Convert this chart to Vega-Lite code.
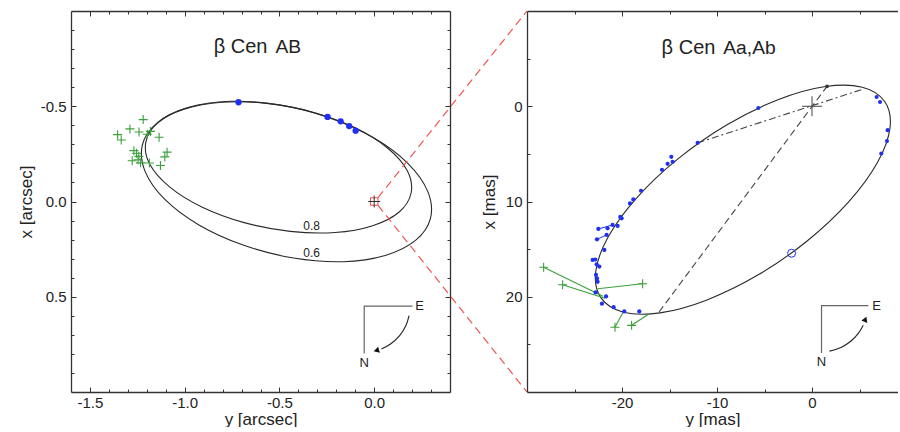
{
  "$schema": "https://vega.github.io/schema/vega-lite/v6.json",
  "padding": {"left": 17, "top": 8, "right": 0, "bottom": 0},
  "background": "white",
  "bounds": "flush",
  "spacing": 77,
  "config": {
    "view": {"stroke": null},
    "font": "Liberation Sans",
    "text": {"font": "Liberation Sans", "color": "#222"},
    "axis": {
      "labelFont": "Liberation Sans", "labelFontSize": 15, "labelColor": "#222",
      "titleFont": "Liberation Sans", "titleFontSize": 17, "titleFontWeight": "normal", "titleColor": "#222",
      "domainColor": "#333", "domainWidth": 1.3, "tickColor": "#333", "tickWidth": 1,
      "grid": false, "labelFlush": false, "labelOverlap": false
    }
  },
  "datasets": {
    "orbL": [
      {"orbit": "0.8", "t": 0, "y": 0.195, "x": -0.046},
      {"orbit": "0.8", "t": 20, "y": 0.132, "x": 0.055},
      {"orbit": "0.8", "t": 40, "y": -0.008, "x": 0.127},
      {"orbit": "0.8", "t": 60, "y": -0.207, "x": 0.163},
      {"orbit": "0.8", "t": 80, "y": -0.443, "x": 0.157},
      {"orbit": "0.8", "t": 100, "y": -0.686, "x": 0.111},
      {"orbit": "0.8", "t": 120, "y": -0.907, "x": 0.030},
      {"orbit": "0.8", "t": 140, "y": -1.080, "x": -0.077},
      {"orbit": "0.8", "t": 160, "y": -1.184, "x": -0.195},
      {"orbit": "0.8", "t": 180, "y": -1.205, "x": -0.312},
      {"orbit": "0.8", "t": 200, "y": -1.142, "x": -0.413},
      {"orbit": "0.8", "t": 220, "y": -1.003, "x": -0.485},
      {"orbit": "0.8", "t": 240, "y": -0.803, "x": -0.521},
      {"orbit": "0.8", "t": 260, "y": -0.567, "x": -0.515},
      {"orbit": "0.8", "t": 280, "y": -0.324, "x": -0.469},
      {"orbit": "0.8", "t": 300, "y": -0.103, "x": -0.388},
      {"orbit": "0.8", "t": 320, "y": 0.070, "x": -0.281},
      {"orbit": "0.8", "t": 340, "y": 0.174, "x": -0.163},
      {"orbit": "0.6", "t": 0, "y": 0.297, "x": 0.088},
      {"orbit": "0.6", "t": 20, "y": 0.218, "x": 0.204},
      {"orbit": "0.6", "t": 40, "y": 0.058, "x": 0.283},
      {"orbit": "0.6", "t": 60, "y": -0.165, "x": 0.316},
      {"orbit": "0.6", "t": 80, "y": -0.425, "x": 0.297},
      {"orbit": "0.6", "t": 100, "y": -0.688, "x": 0.230},
      {"orbit": "0.6", "t": 120, "y": -0.925, "x": 0.123},
      {"orbit": "0.6", "t": 140, "y": -1.106, "x": -0.012},
      {"orbit": "0.6", "t": 160, "y": -1.209, "x": -0.158},
      {"orbit": "0.6", "t": 180, "y": -1.223, "x": -0.298},
      {"orbit": "0.6", "t": 200, "y": -1.144, "x": -0.414},
      {"orbit": "0.6", "t": 220, "y": -0.984, "x": -0.493},
      {"orbit": "0.6", "t": 240, "y": -0.761, "x": -0.526},
      {"orbit": "0.6", "t": 260, "y": -0.501, "x": -0.507},
      {"orbit": "0.6", "t": 280, "y": -0.238, "x": -0.440},
      {"orbit": "0.6", "t": 300, "y": -0.001, "x": -0.333},
      {"orbit": "0.6", "t": 320, "y": 0.180, "x": -0.198},
      {"orbit": "0.6", "t": 340, "y": 0.283, "x": -0.052}
    ],
    "crossL": [
      {"y": -1.219, "x": -0.430}, {"y": -1.289, "x": -0.381}, {"y": -1.241, "x": -0.365},
      {"y": -1.181, "x": -0.368}, {"y": -1.197, "x": -0.353}, {"y": -1.354, "x": -0.351},
      {"y": -1.335, "x": -0.323}, {"y": -1.135, "x": -0.337}, {"y": -1.268, "x": -0.267},
      {"y": -1.254, "x": -0.253}, {"y": -1.093, "x": -0.259}, {"y": -1.105, "x": -0.234},
      {"y": -1.277, "x": -0.214}, {"y": -1.246, "x": -0.219}, {"y": -1.233, "x": -0.203},
      {"y": -1.186, "x": -0.202}, {"y": -1.128, "x": -0.189}, {"y": -1.242, "x": -0.237}
    ],
    "blueL": [
      {"y": -0.716, "x": -0.521}, {"y": -0.246, "x": -0.444}, {"y": -0.177, "x": -0.421},
      {"y": -0.132, "x": -0.396}, {"y": -0.098, "x": -0.372}
    ],
    "originL": [{"y": 0, "x": 0}],
    "redL": [
      {"seg": "upper", "y": 0.02, "x": -0.02}, {"seg": "upper", "y": 0.806, "x": -1.0},
      {"seg": "lower", "y": 0.02, "x": 0.02}, {"seg": "lower", "y": 0.806, "x": 1.0}
    ],
    "labL": [
      {"label": "0.8", "y": -0.33, "x": 0.126},
      {"label": "0.6", "y": -0.33, "x": 0.268}
    ],
    "titleL": [
      {"part": "main", "label": "β Cen", "y": -0.847, "x": -0.779},
      {"part": "sub", "label": "AB", "y": -0.521, "x": -0.779}
    ],
    "compL": [
      {"ord": 1, "y": 0.2016, "x": 0.549}, {"ord": 2, "y": -0.0528, "x": 0.549}, {"ord": 3, "y": -0.0528, "x": 0.798}
    ],
    "arcL": [
      {"ord": 1, "y": 0.184, "x": 0.599}, {"ord": 2, "y": 0.167, "x": 0.652}, {"ord": 3, "y": 0.133, "x": 0.705},
      {"ord": 4, "y": 0.086, "x": 0.748}, {"ord": 5, "y": 0.038, "x": 0.774}
    ],
    "arrowL": [{"y": 0.016, "x": 0.781}],
    "compLabL": [
      {"label": "E", "y": 0.24, "x": 0.549}, {"label": "N", "y": -0.0528, "x": 0.847}
    ],
    "orbR": [
      {"t": 0, "y": 7.65, "x": -0.50}, {"t": 20, "y": 8.21, "x": 2.24}, {"t": 40, "y": 6.90, "x": 5.89},
      {"t": 60, "y": 3.88, "x": 10.02}, {"t": 80, "y": -0.48, "x": 14.12}, {"t": 100, "y": -5.66, "x": 17.70},
      {"t": 120, "y": -11.05, "x": 20.33}, {"t": 140, "y": -15.98, "x": 21.69}, {"t": 160, "y": -19.85, "x": 21.62},
      {"t": 180, "y": -22.21, "x": 20.12}, {"t": 200, "y": -22.77, "x": 17.38}, {"t": 220, "y": -21.46, "x": 13.73},
      {"t": 240, "y": -18.45, "x": 9.61}, {"t": 260, "y": -14.08, "x": 5.50}, {"t": 280, "y": -8.90, "x": 1.92},
      {"t": 300, "y": -3.52, "x": -0.71}, {"t": 320, "y": 1.42, "x": -2.07}, {"t": 340, "y": 5.29, "x": -2.00}
    ],
    "dashR": [{"y": 1.58, "x": -2.09}, {"y": -16.1, "x": 21.6}],
    "dashDotR": [{"y": -12.04, "x": 3.84}, {"y": 5.5, "x": -1.84}],
    "greenLineR": [
      {"id": 1, "ord": 1, "y": -28.25, "x": 16.90}, {"id": 1, "ord": 2, "y": -22.0, "x": 19.95},
      {"id": 2, "ord": 1, "y": -26.25, "x": 18.74}, {"id": 2, "ord": 2, "y": -21.8, "x": 20.15},
      {"id": 3, "ord": 1, "y": -17.83, "x": 18.64}, {"id": 3, "ord": 2, "y": -22.57, "x": 19.16},
      {"id": 4, "ord": 1, "y": -20.74, "x": 23.2}, {"id": 4, "ord": 2, "y": -19.76, "x": 21.4},
      {"id": 5, "ord": 1, "y": -18.99, "x": 23.0}, {"id": 5, "ord": 2, "y": -17.13, "x": 21.78}
    ],
    "greenCrossR": [
      {"y": -28.25, "x": 16.90}, {"y": -26.25, "x": 18.74}, {"y": -17.83, "x": 18.64},
      {"y": -20.74, "x": 23.2}, {"y": -18.99, "x": 23.0}
    ],
    "blueLineR": [
      {"id": 1, "ord": 1, "y": -22.49, "x": 12.88}, {"id": 1, "ord": 2, "y": -20.99, "x": 12.46},
      {"id": 2, "ord": 1, "y": -22.63, "x": 13.97}, {"id": 2, "ord": 2, "y": -21.6, "x": 13.5}
    ],
    "blueR": [
      {"kind": "large", "y": -5.65, "x": 0.18}, {"kind": "large", "y": 6.80, "x": -0.97},
      {"kind": "large", "y": 7.16, "x": -0.45}, {"kind": "large", "y": 7.96, "x": 2.51},
      {"kind": "large", "y": 7.89, "x": 3.66}, {"kind": "large", "y": 7.29, "x": 4.96},
      {"kind": "medium", "y": -12.04, "x": 3.84}, {"kind": "medium", "y": -14.81, "x": 5.31},
      {"kind": "medium", "y": -14.67, "x": 5.83}, {"kind": "medium", "y": -15.20, "x": 6.04},
      {"kind": "medium", "y": -15.79, "x": 6.67}, {"kind": "medium", "y": -18.00, "x": 8.87},
      {"kind": "medium", "y": -18.81, "x": 9.78}, {"kind": "medium", "y": -19.16, "x": 10.20},
      {"kind": "medium", "y": -20.18, "x": 11.62}, {"kind": "medium", "y": -20.04, "x": 11.77},
      {"kind": "medium", "y": -20.46, "x": 12.57}, {"kind": "medium", "y": -20.99, "x": 12.46},
      {"kind": "medium", "y": -21.52, "x": 12.82}, {"kind": "medium", "y": -21.62, "x": 13.51},
      {"kind": "medium", "y": -21.86, "x": 15.08}, {"kind": "medium", "y": -22.81, "x": 16.09},
      {"kind": "medium", "y": -23.09, "x": 16.13}, {"kind": "medium", "y": -22.67, "x": 16.59},
      {"kind": "medium", "y": -22.39, "x": 16.83}, {"kind": "medium", "y": -22.74, "x": 17.70},
      {"kind": "medium", "y": -22.63, "x": 18.08}, {"kind": "medium", "y": -22.57, "x": 18.43},
      {"kind": "medium", "y": -22.78, "x": 19.55}, {"kind": "medium", "y": -21.68, "x": 19.97},
      {"kind": "medium", "y": -22.11, "x": 20.73}, {"kind": "medium", "y": -20.88, "x": 21.09},
      {"kind": "medium", "y": -19.76, "x": 21.54}, {"kind": "medium", "y": -18.18, "x": 21.54},
      {"kind": "small", "y": -22.49, "x": 12.88}, {"kind": "small", "y": -22.63, "x": 13.97}
    ],
    "openR": [{"y": -2.15, "x": 15.43}],
    "periR": [{"y": 1.58, "x": -2.09}],
    "originR": [{"y": 0, "x": 0}],
    "titleR": [
      {"part": "main", "label": "β Cen", "y": -15.83, "x": -5.48},
      {"part": "sub", "label": "Aa,Ab", "y": -9.34, "x": -5.48}
    ],
    "compR": [
      {"ord": 1, "y": 5.93, "x": 20.94}, {"ord": 2, "y": 1.0, "x": 20.94}, {"ord": 3, "y": 1.0, "x": 25.9}
    ],
    "arcR": [
      {"ord": 1, "y": 1.84, "x": 25.71}, {"ord": 2, "y": 3.05, "x": 25.33}, {"ord": 3, "y": 4.11, "x": 24.65},
      {"ord": 4, "y": 4.87, "x": 23.85}, {"ord": 5, "y": 5.39, "x": 22.99}
    ],
    "arrowR": [{"y": 5.58, "x": 22.45}],
    "compLabR": [
      {"label": "E", "y": 6.8, "x": 20.94}, {"label": "N", "y": 1.0, "x": 26.9}
    ]
  },
  "hconcat": [
    {
      "width": 379,
      "height": 381,
      "resolve": {"axis": {"x": "independent", "y": "independent"}},
      "encoding": {
        "x": {"field": "y", "type": "quantitative", "scale": {"domain": [-1.6, 0.4], "nice": false, "zero": false}, "axis": null},
        "y": {"field": "x", "type": "quantitative", "scale": {"domain": [-1, 1], "reverse": true, "nice": false, "zero": false}, "axis": null}
      },
      "layer": [
        {
          "data": {"name": "orbL"},
          "mark": {"type": "line", "interpolate": "cardinal-closed", "color": "#2a2a2a", "strokeWidth": 1.1},
          "encoding": {
            "x": {"field": "y", "type": "quantitative", "scale": {"domain": [-1.6, 0.4], "nice": false, "zero": false},
                  "axis": {"orient": "bottom", "values": [-1.5, -1, -0.5, 0], "tickSize": -5, "labelPadding": 8,
                           "labelExpr": "replace(format(datum.value, '.1f'), '−', '-')", "title": "y [arcsec]", "titlePadding": 1}},
            "y": {"field": "x", "type": "quantitative", "scale": {"domain": [-1, 1], "reverse": true, "nice": false, "zero": false},
                  "axis": {"orient": "left", "values": [-0.5, 0, 0.5], "tickSize": -5, "labelPadding": 10,
                           "labelExpr": "replace(format(datum.value, '.1f'), '−', '-')", "title": "x [arcsec]", "titlePadding": 5}},
            "detail": {"field": "orbit"},
            "order": {"field": "t", "type": "quantitative"}
          }
        },
        {
          "data": {"name": "crossL"},
          "mark": {"type": "point", "shape": "M-1,0L1,0M0,-1L0,1", "size": 81, "filled": false, "stroke": "#3aa03a", "strokeWidth": 1.1, "opacity": 1},
          "encoding": {
            "x": {"field": "y", "type": "quantitative", "scale": {"domain": [-1.6, 0.4], "nice": false, "zero": false},
                  "axis": {"orient": "bottom", "values": [-1.5, -1.4, -1.3, -1.2, -1.1, -1.0, -0.9, -0.8, -0.7, -0.6, -0.5, -0.4, -0.3, -0.2, -0.1, 0, 0.1, 0.2, 0.3],
                           "tickSize": -3, "labels": false, "domain": false, "title": null}},
            "y": {"field": "x", "type": "quantitative", "scale": {"domain": [-1, 1], "reverse": true, "nice": false, "zero": false},
                  "axis": {"orient": "left", "values": [-0.9, -0.8, -0.7, -0.6, -0.5, -0.4, -0.3, -0.2, -0.1, 0, 0.1, 0.2, 0.3, 0.4, 0.5, 0.6, 0.7, 0.8, 0.9],
                           "tickSize": -3, "labels": false, "domain": false, "title": null}}
          }
        },
        {
          "data": {"name": "blueL"},
          "mark": {"type": "circle", "size": 40, "color": "#2030f0", "opacity": 1},
          "encoding": {
            "x": {"field": "y", "type": "quantitative", "scale": {"domain": [-1.6, 0.4], "nice": false, "zero": false},
                  "axis": {"orient": "top", "values": [-1.5, -1, -0.5, 0], "tickSize": -5, "labels": false, "title": null}},
            "y": {"field": "x", "type": "quantitative", "scale": {"domain": [-1, 1], "reverse": true, "nice": false, "zero": false},
                  "axis": {"orient": "right", "values": [-0.5, 0, 0.5], "tickSize": -5, "labels": false, "title": null}}
          }
        },
        {
          "data": {"name": "originL"},
          "mark": {"type": "point", "shape": "square", "size": 56, "filled": false, "stroke": "#e84a4a", "strokeWidth": 1, "opacity": 1},
          "encoding": {
            "x": {"field": "y", "type": "quantitative", "scale": {"domain": [-1.6, 0.4], "nice": false, "zero": false},
                  "axis": {"orient": "top", "values": [-1.5, -1.4, -1.3, -1.2, -1.1, -1.0, -0.9, -0.8, -0.7, -0.6, -0.5, -0.4, -0.3, -0.2, -0.1, 0, 0.1, 0.2, 0.3],
                           "tickSize": -3, "labels": false, "domain": false, "title": null}},
            "y": {"field": "x", "type": "quantitative", "scale": {"domain": [-1, 1], "reverse": true, "nice": false, "zero": false},
                  "axis": {"orient": "right", "values": [-0.9, -0.8, -0.7, -0.6, -0.5, -0.4, -0.3, -0.2, -0.1, 0, 0.1, 0.2, 0.3, 0.4, 0.5, 0.6, 0.7, 0.8, 0.9],
                           "tickSize": -3, "labels": false, "domain": false, "title": null}}
          }
        },
        {
          "data": {"name": "originL"},
          "mark": {"type": "point", "shape": "M-1,0L1,0M0,-1L0,1", "size": 144, "filled": false, "stroke": "#333", "strokeWidth": 1, "opacity": 1}
        },
        {
          "data": {"name": "redL"},
          "mark": {"type": "line", "color": "#ee5555", "strokeWidth": 1.2, "strokeDash": [8, 5]},
          "encoding": {"detail": {"field": "seg"}}
        },
        {
          "data": {"name": "labL"},
          "mark": {"type": "text", "fontSize": 12, "align": "center", "baseline": "middle"},
          "encoding": {"text": {"field": "label"}}
        },
        {
          "data": {"name": "titleL"},
          "mark": {"type": "text", "align": "left", "baseline": "alphabetic"},
          "encoding": {
            "text": {"field": "label"},
            "size": {"field": "part", "type": "nominal", "scale": {"domain": ["main", "sub"], "range": [20, 17]}, "legend": null}
          }
        },
        {
          "data": {"name": "compL"},
          "mark": {"type": "line", "color": "#666", "strokeWidth": 1.2},
          "encoding": {"order": {"field": "ord", "type": "quantitative"}}
        },
        {
          "data": {"name": "arcL"},
          "mark": {"type": "line", "interpolate": "cardinal", "color": "#222", "strokeWidth": 1.1},
          "encoding": {"order": {"field": "ord", "type": "quantitative"}}
        },
        {
          "data": {"name": "arrowL"},
          "mark": {"type": "point", "shape": "triangle", "size": 40, "filled": true, "color": "#111", "opacity": 1, "angle": 254}
        },
        {
          "data": {"name": "compLabL"},
          "mark": {"type": "text", "fontSize": 13, "align": "center", "baseline": "middle"},
          "encoding": {"text": {"field": "label"}}
        }
      ]
    },
    {
      "width": 371,
      "height": 381,
      "resolve": {"axis": {"x": "independent", "y": "independent"}},
      "encoding": {
        "x": {"field": "y", "type": "quantitative", "scale": {"domain": [-30, 9.05], "nice": false, "zero": false}, "axis": null},
        "y": {"field": "x", "type": "quantitative", "scale": {"domain": [-10, 30], "reverse": true, "nice": false, "zero": false}, "axis": null}
      },
      "layer": [
        {
          "data": {"name": "orbR"},
          "mark": {"type": "line", "interpolate": "cardinal-closed", "color": "#2a2a2a", "strokeWidth": 1.1},
          "encoding": {
            "x": {"field": "y", "type": "quantitative", "scale": {"domain": [-30, 9.05], "nice": false, "zero": false},
                  "axis": {"orient": "bottom", "values": [-20, -10, 0], "tickSize": -5, "labelPadding": 8,
                           "labelExpr": "replace(format(datum.value, 'd'), '−', '-')", "title": "y [mas]", "titlePadding": 1}},
            "y": {"field": "x", "type": "quantitative", "scale": {"domain": [-10, 30], "reverse": true, "nice": false, "zero": false},
                  "axis": {"orient": "left", "values": [0, 10, 20], "tickSize": -5, "labelPadding": 10,
                           "labelExpr": "replace(format(datum.value, 'd'), '−', '-')", "title": "x [mas]", "titlePadding": 7}},
            "order": {"field": "t", "type": "quantitative"}
          }
        },
        {
          "data": {"name": "dashR"},
          "mark": {"type": "line", "color": "#444", "strokeWidth": 1.1, "strokeDash": [7, 4]},
          "encoding": {
            "x": {"field": "y", "type": "quantitative", "scale": {"domain": [-30, 9.05], "nice": false, "zero": false},
                  "axis": {"orient": "bottom", "values": [-25, -15, -5, 5], "tickSize": -3, "labels": false, "domain": false, "title": null}},
            "y": {"field": "x", "type": "quantitative", "scale": {"domain": [-10, 30], "reverse": true, "nice": false, "zero": false},
                  "axis": {"orient": "left", "values": [-5, 5, 15, 25], "tickSize": -3, "labels": false, "domain": false, "title": null}}
          }
        },
        {
          "data": {"name": "dashDotR"},
          "mark": {"type": "line", "color": "#444", "strokeWidth": 1.1, "strokeDash": [7, 3, 2, 3]},
          "encoding": {
            "x": {"field": "y", "type": "quantitative", "scale": {"domain": [-30, 9.05], "nice": false, "zero": false},
                  "axis": {"orient": "top", "values": [-20, -10, 0], "tickSize": -5, "labels": false, "title": null}}
          }
        },
        {
          "data": {"name": "greenLineR"},
          "mark": {"type": "line", "color": "#3aa03a", "strokeWidth": 1.1},
          "encoding": {
            "x": {"field": "y", "type": "quantitative", "scale": {"domain": [-30, 9.05], "nice": false, "zero": false},
                  "axis": {"orient": "top", "values": [-25, -15, -5, 5], "tickSize": -3, "labels": false, "domain": false, "title": null}},
            "detail": {"field": "id"},
            "order": {"field": "ord", "type": "quantitative"}
          }
        },
        {
          "data": {"name": "greenCrossR"},
          "mark": {"type": "point", "shape": "M-1,0L1,0M0,-1L0,1", "size": 81, "filled": false, "stroke": "#3aa03a", "strokeWidth": 1.1, "opacity": 1}
        },
        {
          "data": {"name": "blueLineR"},
          "mark": {"type": "line", "color": "#2030f0", "strokeWidth": 1},
          "encoding": {"detail": {"field": "id"}, "order": {"field": "ord", "type": "quantitative"}}
        },
        {
          "data": {"name": "blueR"},
          "mark": {"type": "circle", "color": "#2030f0", "opacity": 1},
          "encoding": {
            "size": {"field": "kind", "type": "ordinal", "scale": {"domain": ["small", "medium", "large"], "range": [18, 50, 110]}, "legend": null}
          }
        },
        {
          "data": {"name": "openR"},
          "mark": {"type": "point", "shape": "circle", "size": 64, "filled": false, "stroke": "#2030f0", "strokeWidth": 1, "opacity": 1}
        },
        {
          "data": {"name": "periR"},
          "mark": {"type": "circle", "size": 14, "color": "#333", "opacity": 1}
        },
        {
          "data": {"name": "originR"},
          "mark": {"type": "point", "shape": "M-1,0L1,0M0,-1L0,1", "size": 400, "filled": false, "stroke": "#444", "strokeWidth": 1, "opacity": 1}
        },
        {
          "data": {"name": "titleR"},
          "mark": {"type": "text", "align": "left", "baseline": "alphabetic"},
          "encoding": {
            "text": {"field": "label"},
            "size": {"field": "part", "type": "nominal", "scale": {"domain": ["main", "sub"], "range": [20, 17]}, "legend": null}
          }
        },
        {
          "data": {"name": "compR"},
          "mark": {"type": "line", "color": "#666", "strokeWidth": 1.2},
          "encoding": {"order": {"field": "ord", "type": "quantitative"}}
        },
        {
          "data": {"name": "arcR"},
          "mark": {"type": "line", "interpolate": "cardinal", "color": "#222", "strokeWidth": 1.1},
          "encoding": {"order": {"field": "ord", "type": "quantitative"}}
        },
        {
          "data": {"name": "arrowR"},
          "mark": {"type": "point", "shape": "triangle", "size": 40, "filled": true, "color": "#111", "opacity": 1, "angle": 22}
        },
        {
          "data": {"name": "compLabR"},
          "mark": {"type": "text", "fontSize": 13, "align": "center", "baseline": "middle"},
          "encoding": {"text": {"field": "label"}}
        }
      ]
    }
  ]
}
